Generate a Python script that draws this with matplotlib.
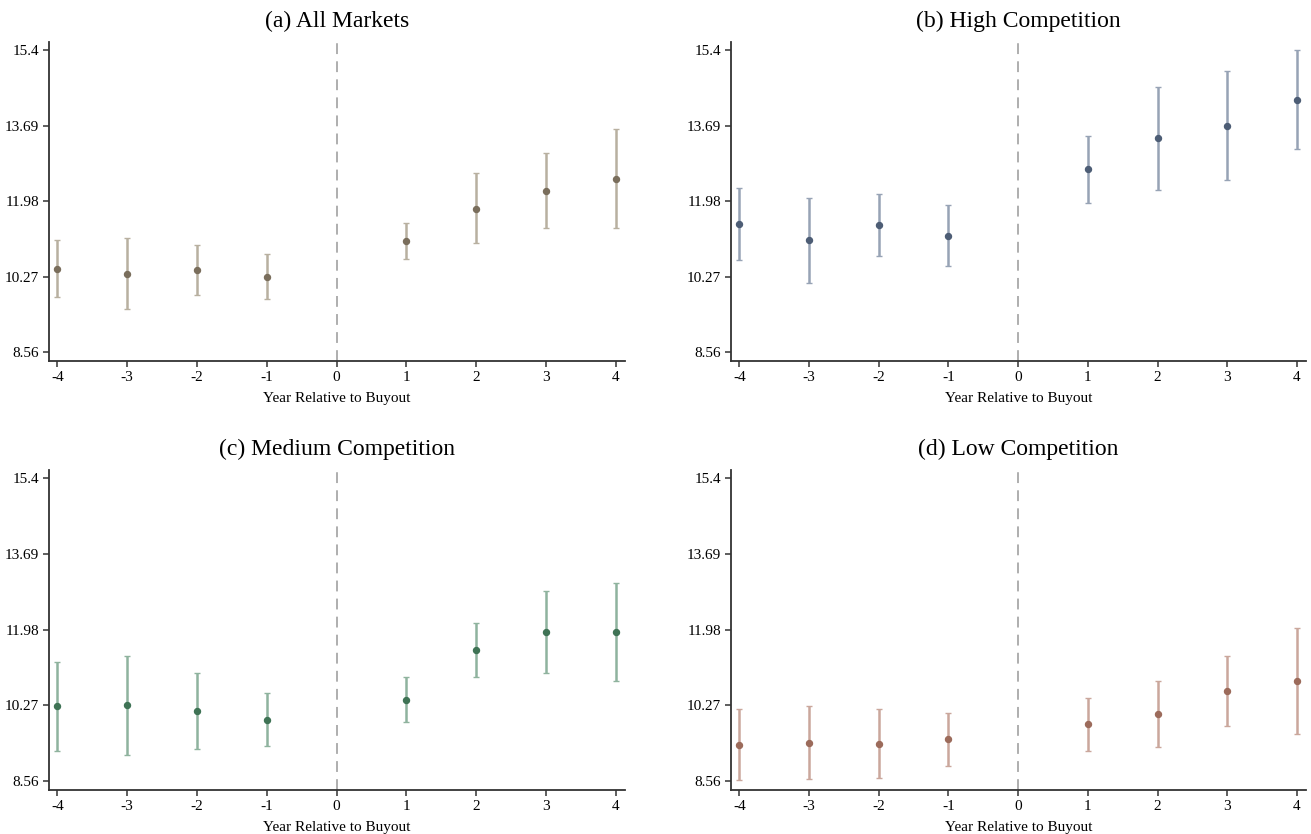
import matplotlib
matplotlib.use("Agg")
import matplotlib.pyplot as plt

# event time
years = [-4, -3, -2, -1, 1, 2, 3, 4]

# (a) All Markets
all_est = [10.45, 10.34, 10.42, 10.27, 11.07, 11.81, 12.21, 12.49]
all_lo = [9.80, 9.54, 9.85, 9.77, 10.67, 11.03, 11.36, 11.38]
all_hi = [11.10, 11.15, 10.98, 10.78, 11.48, 12.61, 13.06, 13.60]

# (b) High Competition
high_est = [11.45, 11.09, 11.44, 11.20, 12.70, 13.40, 13.68, 14.27]
high_lo = [10.64, 10.12, 10.74, 10.50, 11.94, 12.22, 12.46, 13.15]
high_hi = [12.27, 12.06, 12.15, 11.89, 13.46, 14.57, 14.92, 15.39]

# (c) Medium Competition
med_est = [10.26, 10.27, 10.14, 9.95, 10.39, 11.52, 11.92, 11.93]
med_lo = [9.25, 9.16, 9.29, 9.35, 9.89, 10.92, 10.99, 10.81]
med_hi = [11.25, 11.38, 11.00, 10.55, 10.91, 12.12, 12.84, 13.04]

# (d) Low Competition
low_est = [9.37, 9.43, 9.40, 9.50, 9.84, 10.07, 10.59, 10.83]
low_lo = [8.58, 8.61, 8.62, 8.91, 9.25, 9.34, 9.80, 9.63]
low_hi = [10.19, 10.26, 10.18, 10.10, 10.44, 10.81, 11.38, 12.02]

titles = ["(a) All Markets", "(b) High Competition",
          "(c) Medium Competition", "(d) Low Competition"]
yticks = [8.56, 10.27, 11.98, 13.69, 15.4]
yticklabels = ["8.56", "10.27", "11.98", "13.69", "15.4"]
xticks = [-4, -3, -2, -1, 0, 1, 2, 3, 4]
xticklabels = ["-4", "-3", "-2", "-1", "0", "1", "2", "3", "4"]

panels = [
    (all_est, all_lo, all_hi, "#7a6e5c", "#b8b0a0"),
    (high_est, high_lo, high_hi, "#4d5d75", "#97a3b5"),
    (med_est, med_lo, med_hi, "#3f7355", "#8fb39e"),
    (low_est, low_lo, low_hi, "#9c6b5b", "#caa79c"),
]

plt.rcParams["font.family"] = ["Liberation Serif", "DejaVu Serif"]
plt.rcParams["axes.unicode_minus"] = False

fig = plt.figure(figsize=(13.11, 8.34), dpi=100)

# axes boxes in pixels: left, top, right, bottom
boxes = [(49, 42, 625, 361), (731, 42, 1306, 361),
         (49, 470, 625, 790), (731, 470, 1306, 790)]
W, H = 1311, 834

for i, (est, lo, hi, c_pt, c_bar) in enumerate(panels):
    l, t, r, b = boxes[i]
    ax = fig.add_axes([l / W, 1 - b / H, (r - l) / W, (b - t) / H])

    yerr = [[e - a for e, a in zip(est, lo)], [h - e for e, h in zip(est, hi)]]
    ax.errorbar(years, est, yerr=yerr, fmt="none", ecolor=c_bar,
                elinewidth=1.8, capsize=2.2, capthick=1.0, zorder=2)
    ax.plot(years, est, "o", color=c_pt, markersize=4.3, zorder=3)

    ax.axvline(0, color="#a8a8a8", linestyle=(0, (6, 4)), linewidth=1.3, zorder=1)

    ax.set_xlim(-4.12, 4.13)
    ax.set_ylim(8.36, 15.58)
    ax.set_xticks(xticks)
    ax.set_xticklabels(xticklabels)
    ax.set_yticks(yticks)
    ax.set_yticklabels(yticklabels)
    ax.tick_params(axis="both", labelsize=11, length=4, width=1.1,
                   color="#333333", pad=3)

    ax.spines["top"].set_visible(False)
    ax.spines["right"].set_visible(False)
    for s in ["left", "bottom"]:
        ax.spines[s].set_color("#333333")
        ax.spines[s].set_linewidth(1.3)

    ax.set_xlabel("Year Relative to Buyout", fontsize=11, labelpad=6)
    ax.set_title(titles[i], fontsize=17, pad=11)

fig.savefig("out.png", dpi=100)
